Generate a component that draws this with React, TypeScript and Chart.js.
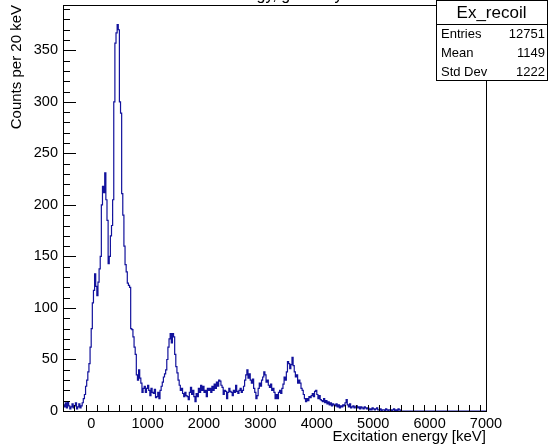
import React, { useEffect, useRef } from "react";
import { Chart, registerables } from "chart.js";

Chart.register(...registerables);

// ---------------- data ----------------
const histName = "Ex_recoil";
const histTitle = "Excitation energy, gated by recoil";
const xAxisTitle = "Excitation energy [keV]";
const yAxisTitle = "Counts per 20 keV";

const binStart = -500; // keV, low edge of first bin
const binWidth = 20; // keV
const xMin = -500;
const xMax = 7000;
const yMin = 0;
const yMax = 394;

const xMajorTicks = [0, 1000, 2000, 3000, 4000, 5000, 6000, 7000];
const xMinorStep = 200;
const yMajorTicks = [0, 50, 100, 150, 200, 250, 300, 350];
const yMinorStep = 10;

const statsLabels = ["Entries", "Mean", "Std Dev"];
const statsValues = ["12751", "1149", "1222"];

// counts per 20 keV bin, starting at -500 keV (bins up to 5480 keV; above that empty)
const counts = [
  6, 4, 8, 3, 9, 5, 2, 4, 7, 3,
  5, 8, 2, 4, 7, 3, 5, 8, 12, 16,
  24, 30, 38, 46, 62, 80, 105, 117, 133, 121,
  112, 125, 138, 150, 200, 218, 212, 231, 205, 185,
  143, 150, 170, 180, 205, 300, 357, 367, 375, 370,
  300, 289, 211, 190, 160, 142, 135, 124, 122, 120,
  80, 79, 72, 62, 55, 35, 30, 40, 32, 27,
  18, 22, 24, 18, 22, 25, 20, 15, 22, 18,
  17, 21, 13, 14, 18, 12, 20, 24, 28, 33,
  36, 40, 50, 62, 70, 75, 66, 75, 72, 55,
  43, 37, 30, 25, 20, 22, 17, 14, 18, 15,
  14, 11, 18, 23, 16, 20, 14, 9, 17, 14,
  22, 18, 25, 20, 24, 18, 20, 14, 22, 20,
  22, 18, 24, 20, 26, 22, 28, 24, 30, 29,
  25, 23, 16, 20, 19, 12, 18, 22, 19, 18,
  15, 20, 18, 25, 19, 17, 20, 22, 18, 20,
  24, 30, 35, 40, 32, 36, 30, 27, 31, 22,
  18, 12, 15, 22, 27, 24, 30, 33, 38, 35,
  28, 30, 25, 23, 26, 20, 22, 18, 12, 16,
  12, 18, 20, 17, 22, 26, 33, 30, 38, 48,
  46, 41, 45, 52, 44, 38, 33, 35, 27, 30,
  27, 22, 20, 16, 12, 9, 12, 10, 14, 13,
  15, 17, 14, 19, 20, 16, 12, 15, 11, 10,
  9, 12, 8, 10, 7, 9, 6, 8, 5, 7,
  6, 5, 7, 4, 6, 3, 5, 4, 6, 5,
  8, 11, 6, 4, 7, 3, 4, 5, 3, 4,
  5, 3, 4, 2, 4, 3, 2, 4, 3, 2,
  3, 1, 2, 1, 3, 2, 1, 2, 3, 1,
  1, 2, 0, 1, 1, 0, 2, 1, 0, 1,
  1, 0, 1, 2, 0, 1, 0, 2, 1, 0,
];

// ---------------- styles ----------------
const FONT = "'Liberation Sans', Arial, Helvetica, sans-serif";
const LINE_COLOR = "#12129c";

const rootPlugin = {
  id: "rootDecor",
  afterDraw(chart: any) {
    const ctx = chart.ctx as CanvasRenderingContext2D;
    const { left, right, top, bottom } = chart.chartArea;
    const xs = chart.scales.x;
    const ys = chart.scales.y;
    ctx.save();
    ctx.strokeStyle = "#000";
    ctx.lineWidth = 1;
    // frame
    ctx.strokeRect(Math.round(left) + 0.5, Math.round(top) + 0.5, Math.round(right - left), Math.round(bottom - top));
    // ticks (inside the frame, ROOT style)
    ctx.beginPath();
    for (let v = xMin + xMinorStep; v < xMax; v += xMinorStep) {
      const px = Math.round(xs.getPixelForValue(v)) + 0.5;
      const major = xMajorTicks.includes(v);
      ctx.moveTo(px, bottom);
      ctx.lineTo(px, bottom - (major ? 12 : 6));
    }
    for (let v = yMin + yMinorStep; v < yMax; v += yMinorStep) {
      const py = Math.round(ys.getPixelForValue(v)) + 0.5;
      const major = yMajorTicks.includes(v);
      ctx.moveTo(left, py);
      ctx.lineTo(left + (major ? 13 : 7), py);
    }
    ctx.stroke();

    // title, mostly cut off by the top edge
    ctx.fillStyle = "#000";
    ctx.font = `16px ${FONT}`;
    ctx.textAlign = "center";
    ctx.textBaseline = "alphabetic";
    ctx.fillText(histTitle, 268, -0.5);

    // stats box
    const bx = 436, by = 0, bw = 111, bh = 80;
    ctx.fillStyle = "#fff";
    ctx.fillRect(bx, by, bw, bh);
    ctx.strokeRect(bx + 0.5, by + 0.5, bw, bh);
    ctx.beginPath();
    ctx.moveTo(bx, 24.5);
    ctx.lineTo(bx + bw, 24.5);
    ctx.stroke();
    ctx.fillStyle = "#000";
    ctx.textBaseline = "middle";
    ctx.textAlign = "center";
    ctx.font = `17px ${FONT}`;
    ctx.fillText(histName, bx + bw / 2, 13);
    ctx.font = `13px ${FONT}`;
    const rowsY = [34, 53, 72];
    statsLabels.forEach((lab, i) => {
      ctx.textAlign = "left";
      ctx.fillText(lab, bx + 5, rowsY[i]);
      ctx.textAlign = "right";
      ctx.fillText(statsValues[i], bx + bw - 2, rowsY[i]);
    });
    ctx.restore();
  },
};

const zeroPad = (s: any) => {
  s.paddingTop = 0;
  s.paddingBottom = 0;
  s.paddingLeft = 0;
  s.paddingRight = 0;
};

export default function App() {
  const ref = useRef<HTMLCanvasElement | null>(null);
  useEffect(() => {
    if (!ref.current) return;
    const points = counts.map((c, i) => ({ x: binStart + i * binWidth, y: c }));
    const lastEdge = binStart + counts.length * binWidth;
    points.push({ x: lastEdge, y: 0 });
    points.push({ x: xMax, y: 0 });

    const chart = new Chart(ref.current, {
      type: "line",
      data: {
        datasets: [
          {
            data: points,
            borderColor: LINE_COLOR,
            borderWidth: 1.2,
            pointRadius: 0,
            stepped: true,
            fill: false,
          },
        ],
      },
      options: {
        animation: false,
        responsive: false,
        devicePixelRatio: 1,
        layout: { padding: { top: 5, right: 62, left: 0, bottom: 0 } },
        plugins: { legend: { display: false }, tooltip: { enabled: false }, title: { display: false } },
        scales: {
          x: {
            type: "linear",
            min: xMin,
            max: xMax,
            grid: { display: false, drawTicks: false },
            border: { display: false },
            afterBuildTicks: (s: any) => {
              s.ticks = xMajorTicks.map((v) => ({ value: v }));
            },
            afterFit: (s: any) => {
              s.height = 34;
              zeroPad(s);
            },
            ticks: {
              padding: 4,
              maxRotation: 0,
              autoSkip: false,
              color: "#000",
              font: { family: FONT, size: 14.5 },
              callback: (v: any) => String(v),
            },
            title: {
              display: true,
              text: xAxisTitle,
              align: "end",
              color: "#000",
              font: { family: FONT, size: 15, lineHeight: 1.2 },
              padding: { top: 0, bottom: -1 },
            },
          },
          y: {
            type: "linear",
            min: yMin,
            max: yMax,
            grid: { display: false, drawTicks: false },
            border: { display: false },
            afterBuildTicks: (s: any) => {
              s.ticks = yMajorTicks.map((v) => ({ value: v }));
            },
            afterFit: (s: any) => {
              s.width = 63;
              zeroPad(s);
            },
            ticks: {
              padding: 5,
              color: "#000",
              font: { family: FONT, size: 14.5 },
              callback: (v: any) => String(v),
            },
            title: {
              display: true,
              text: yAxisTitle,
              align: "end",
              color: "#000",
              font: { family: FONT, size: 15, lineHeight: 1.2 },
              padding: { top: 8, bottom: 0 },
            },
          },
        },
      },
      plugins: [rootPlugin],
    });
    return () => chart.destroy();
  }, []);

  return (
    <div style={{ position: "fixed", left: 0, top: 0, width: 548, height: 445, background: "#fff" }}>
      <canvas ref={ref} width={548} height={445} style={{ display: "block", width: 548, height: 445 }} />
    </div>
  );
}
